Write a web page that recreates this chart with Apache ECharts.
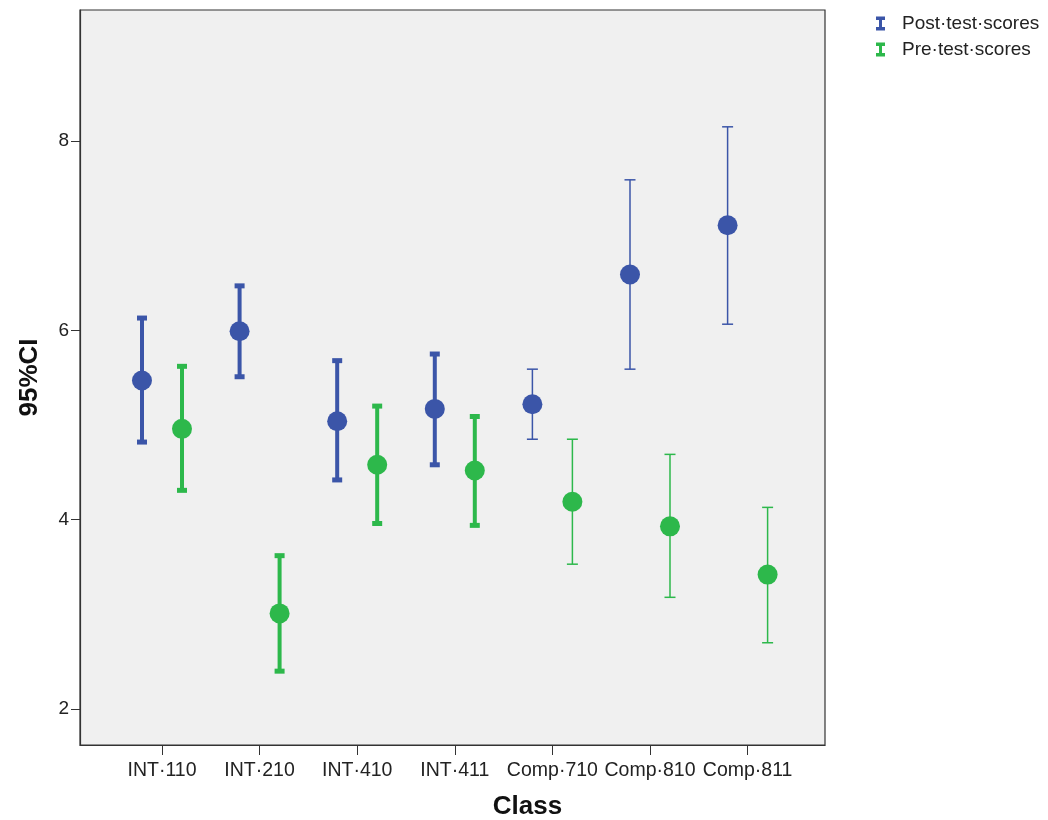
<!DOCTYPE html>
<html>
<head>
<meta charset="utf-8">
<script src="https://cdn.jsdelivr.net/npm/echarts@6/dist/echarts.min.js"></script>
<style>html,body{margin:0;padding:0;background:#fff}#c{width:1048px;height:820px}</style>
</head>
<body>
<div id="c"></div>
<script>
const classes = ['INT\u00B7110','INT\u00B7210','INT\u00B7410','INT\u00B7411','Comp\u00B7710','Comp\u00B7810','Comp\u00B7811'];
const postMean = [5.47, 5.99, 5.04, 5.17, 5.22, 6.59, 7.11];
const postLow  = [4.82, 5.51, 4.42, 4.58, 4.85, 5.59, 6.065];
const postHigh = [6.13, 6.47, 5.68, 5.75, 5.59, 7.59, 8.15];
const preMean  = [4.96, 3.01, 4.58, 4.52, 4.19, 3.93, 3.42];
const preLow   = [4.31, 2.40, 3.96, 3.94, 3.53, 3.18, 2.70];
const preHigh  = [5.62, 3.62, 5.20, 5.09, 4.85, 4.69, 4.13];
const yTicks = [2, 4, 6, 8];
const seriesNames = ['Post\u00B7test\u00B7scores', 'Pre\u00B7test\u00B7scores'];

const BLUE = '#3B55A8', GREEN = '#2DB84B';
const thickClasses = 4; // first classes drawn with heavy bars

function makeData(mean, low, high) {
  return classes.map((c, i) => [i, mean[i], low[i], high[i]]);
}

function renderer(color, dx) {
  return function (params, api) {
    const i = api.value(0);
    const pm = api.coord([i, api.value(1)]);
    const pl = api.coord([i, api.value(2)]);
    const ph = api.coord([i, api.value(3)]);
    const x = pm[0] + dx;
    const thick = i < thickClasses;
    const lw = thick ? 4 : 1.5;
    const capW = thick ? 10 : 11;
    const capH = thick ? 5 : 1.5;
    return {
      type: 'group',
      children: [
        { type: 'line', shape: { x1: x, y1: ph[1], x2: x, y2: pl[1] }, style: { stroke: color, lineWidth: lw } },
        { type: 'rect', shape: { x: x - capW / 2, y: ph[1] - capH / 2, width: capW, height: capH }, style: { fill: color } },
        { type: 'rect', shape: { x: x - capW / 2, y: pl[1] - capH / 2, width: capW, height: capH }, style: { fill: color } },
        { type: 'circle', shape: { cx: x, cy: pm[1], r: 10 }, style: { fill: color } }
      ]
    };
  };
}

const legendIcon = 'path://M0,0H9V3.5H6V10.5H9V14H0V10.5H3V3.5H0Z';

const chart = echarts.init(document.getElementById('c'));
chart.setOption({
  animation: false,
  textStyle: { fontFamily: 'Liberation Sans, Arial, sans-serif' },
  legend: {
    left: 876, top: 14, orient: 'vertical', padding: 0,
    itemWidth: 9, itemHeight: 14, itemGap: 7,
    icon: legendIcon,
    textStyle: { fontSize: 19, lineHeight: 19, color: '#222', padding: [0, 0, 0, 12] },
    data: seriesNames
  },
  grid: { left: 80, right: 223, top: 10, bottom: 75, outerBoundsMode: 'none', containLabel: false,
    show: true, backgroundColor: '#F0F0F0', borderColor: '#333', borderWidth: 1.2 },
  xAxis: {
    type: 'value', min: -0.84, max: 6.793,
    name: 'Class', nameLocation: 'middle', nameGap: 49,
    nameTextStyle: { fontSize: 26, fontWeight: 'bold', color: '#111', padding: [0, 0, 0, 150] },
    axisLine: { show: true, onZero: false, lineStyle: { color: '#333', width: 1.2 } },
    axisTick: { show: true, length: 10, customValues: [0, 1, 2, 3, 4, 5, 6], lineStyle: { color: '#333' } },
    axisLabel: { customValues: [0, 1, 2, 3, 4, 5, 6], formatter: v => classes[v], fontSize: 19.5, color: '#222', margin: 16 },
    splitLine: { show: false }
  },
  yAxis: {
    type: 'value', min: 1.62, max: 9.384,
    name: '95%CI', nameLocation: 'middle', nameGap: 37, nameRotate: 90,
    nameTextStyle: { fontSize: 26, fontWeight: 'bold', color: '#111' },
    axisLine: { show: true, onZero: false, lineStyle: { color: '#333', width: 1.2 } },
    axisTick: { show: true, length: 9, customValues: yTicks, lineStyle: { color: '#333' } },
    axisLabel: { customValues: yTicks, fontSize: 19, color: '#222', margin: 11 },
    splitLine: { show: false }
  },
  series: [
    { name: seriesNames[0], type: 'custom', itemStyle: { color: BLUE }, renderItem: renderer(BLUE, -20),
      encode: { x: 0, y: [1, 2, 3] }, data: makeData(postMean, postLow, postHigh) },
    { name: seriesNames[1], type: 'custom', itemStyle: { color: GREEN }, renderItem: renderer(GREEN, 20),
      encode: { x: 0, y: [1, 2, 3] }, data: makeData(preMean, preLow, preHigh) }
  ]
});
</script>
</body>
</html>
